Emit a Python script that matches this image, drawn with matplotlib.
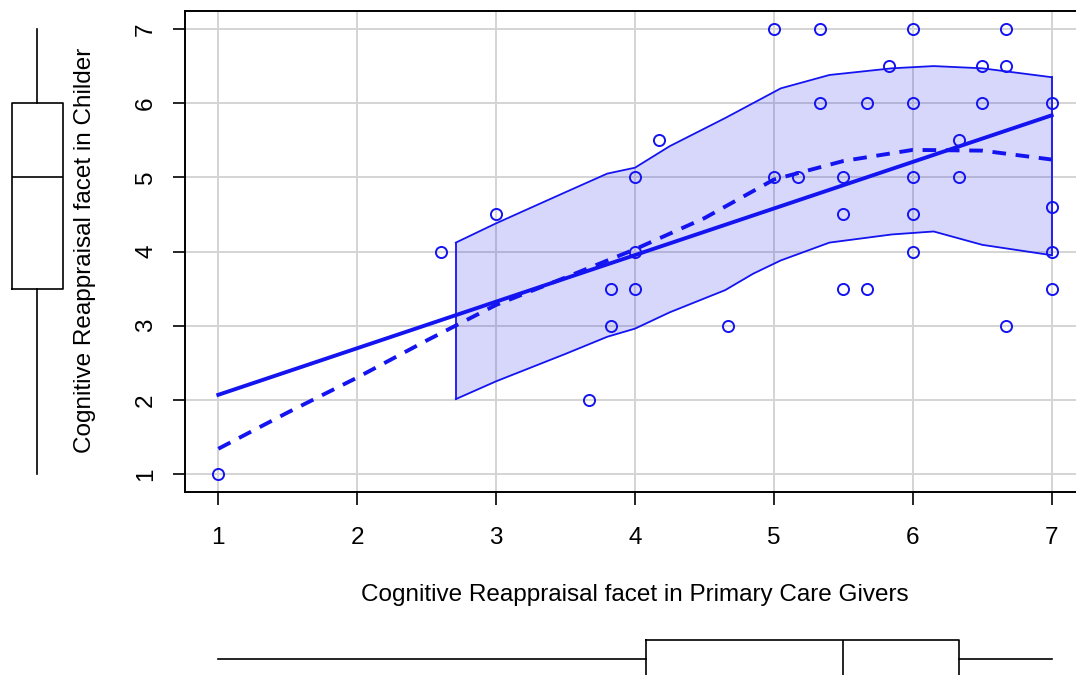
import matplotlib
matplotlib.use("Agg")
import matplotlib.pyplot as plt
import numpy as np

# ---- data ----
x_pts = [1, 2.6, 3, 3.67, 3.83, 3.83, 4, 4, 4, 4.17, 4.67,
         5, 5, 5.17, 5.33, 5.33, 5.5, 5.5, 5.5, 5.67, 5.67, 5.83,
         6, 6, 6, 6, 6, 6.33, 6.33, 6.5, 6.5, 6.67, 6.67, 6.67,
         7, 7, 7, 7]
y_pts = [1, 4, 4.5, 2, 3.5, 3, 5, 4, 3.5, 5.5, 3,
         7, 5, 5, 7, 6, 5, 4.5, 3.5, 6, 3.5, 6.5,
         7, 6, 5, 4.5, 4, 5.5, 5, 6.5, 6, 7, 6.5, 3,
         6, 4.6, 4, 3.5]

fit_intercept = 1.44
fit_slope = 0.628
fit_x = [1, 7]

smooth_x = [1, 1.5, 2, 2.5, 3, 3.5, 4, 4.5, 5, 5.5, 6, 6.5, 7]
smooth_y = [1.34, 1.83, 2.30, 2.80, 3.28, 3.65, 4.03, 4.45, 4.97, 5.22, 5.37, 5.36, 5.24]

band_x = [2.71, 3.0, 3.5, 3.8, 4.0, 4.25, 4.65, 4.85, 5.05, 5.4, 5.85, 6.15, 6.5, 7.0]
band_hi = [4.12, 4.38, 4.80, 5.05, 5.13, 5.42, 5.80, 6.00, 6.20, 6.38, 6.47, 6.50, 6.47, 6.35]
band_lo = [2.01, 2.25, 2.62, 2.85, 2.96, 3.18, 3.48, 3.70, 3.88, 4.12, 4.23, 4.27, 4.09, 3.95]

ybox = dict(whislo=1, q1=3.5, med=5, q3=6, whishi=7, fliers=[])
xbox = dict(whislo=1, q1=4.08, med=5.5, q3=6.33, whishi=7, fliers=[])

ticks = [1, 2, 3, 4, 5, 6, 7]
xlabel = "Cognitive Reappraisal facet in Primary Care Givers"
ylabel = "Cognitive Reappraisal facet in Childer"

plt.rcParams['font.family'] = ['Liberation Sans', 'DejaVu Sans']

W, H = 1076, 675
fig = plt.figure(figsize=(W / 100, H / 100), dpi=100)

def fx(px):
    return px / W

def fy(py):
    return 1 - py / H

blue = '#1414f0'
FS = 17.5

# main axes
L, R, T, B = 185, 1085, 11.2, 491.8
ax = fig.add_axes([fx(L), fy(B), fx(R - L), fy(T) - fy(B)])
ax.set_xlim(0.76, 7.24)
ax.set_ylim(0.76, 7.24)
ax.set_xticks(ticks)
ax.set_yticks(ticks)
ax.grid(True, color='#d4d4d4', lw=1.4)
ax.set_axisbelow(True)
for s in ax.spines.values():
    s.set_linewidth(1.4)
ax.tick_params(axis='both', length=9, width=1.2, labelsize=FS)
ax.tick_params(axis='x', pad=16)
ax.tick_params(axis='y', pad=11)
for lab in ax.get_yticklabels():
    lab.set_rotation(90)
    lab.set_va('center')

ax.fill_between(band_x, band_lo, band_hi, color=blue, alpha=0.17, lw=0)
ax.plot(band_x, band_hi, color=blue, lw=1.3)
ax.plot(band_x, band_lo, color=blue, lw=1.3)
ax.plot([band_x[0], band_x[0]], [band_lo[0], band_hi[0]], color=blue, lw=1.3)
ax.plot([band_x[-1], band_x[-1]], [band_lo[-1], band_hi[-1]], color=blue, lw=1.3)

fx_arr = np.array(fit_x)
ax.plot(fx_arr, fit_intercept + fit_slope * fx_arr, color=blue, lw=2.8)
ax.plot(smooth_x, smooth_y, color=blue, lw=2.8, ls=(0, (3.5, 2.5)))

ax.plot(x_pts, y_pts, 'o', mfc='none', mec=blue, ms=8, mew=1.4, clip_on=False)

fig.text(fx(635), fy(595), xlabel, ha='center', va='center', fontsize=FS)
fig.text(fx(85), fy(250), ylabel, rotation=90, ha='center', va='center', fontsize=FS)

# left marginal boxplot (pixel coordinates horizontally)
axl = fig.add_axes([0, fy(B), fx(L), fy(T) - fy(B)])
axl.set_xlim(0, L)
axl.set_ylim(0.76, 7.24)
axl.bxp([ybox], positions=[37], widths=51, vert=True, showfliers=False,
        boxprops=dict(color='black', lw=1.2), whiskerprops=dict(color='black', lw=1.2, ls='-'),
        medianprops=dict(color='black', lw=1.2), capprops=dict(lw=0))
axl.axis('off')

# bottom marginal boxplot
axb = fig.add_axes([fx(L), 0, fx(R - L), fy(615)])
axb.set_xlim(0.76, 7.24)
axb.set_ylim(H, 615)
axb.bxp([xbox], positions=[659], widths=38, vert=False, showfliers=False,
        boxprops=dict(color='black', lw=1.2), whiskerprops=dict(color='black', lw=1.2, ls='-'),
        medianprops=dict(color='black', lw=1.2), capprops=dict(lw=0))
axb.axis('off')

fig.savefig('out.png', dpi=100)
